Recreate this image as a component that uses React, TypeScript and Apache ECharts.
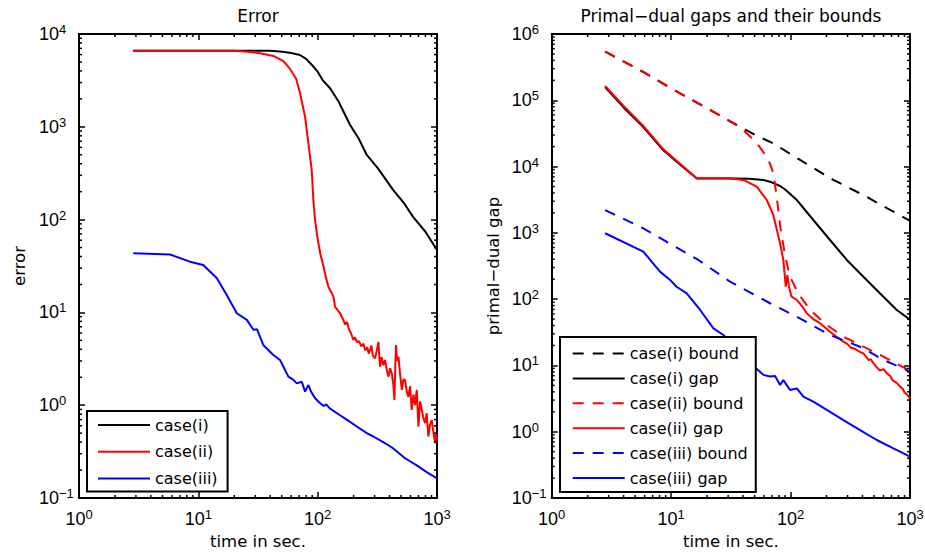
import React, { useEffect, useRef } from 'react';
import * as echarts from 'echarts';

// ---------- Left panel: Error ----------
const errCase1T = [2.85, 10, 20, 30, 40, 51, 60, 71, 80, 89.5, 100, 110, 127, 150, 187, 220, 258, 320, 430, 530, 630, 800, 1000];
const errCase1V = [6600, 6600, 6600, 6600, 6580, 6450, 6250, 5940, 5400, 4640, 3930, 3190, 2600, 1860, 1045, 752, 497, 357, 208, 150, 107, 74, 47];

const errCase2T = [2.85, 10, 19.6, 26, 32.9, 42.5, 51.6, 58.7, 66, 71.2, 78.4, 83.6, 89.2, 92, 95.1, 100, 105, 112, 118, 123, 130, 135.5, 140, 147, 154, 162, 170, 176, 183, 190, 199, 205, 214, 222, 232, 242, 250, 260, 268, 275, 282, 290, 303, 313, 323, 333, 343, 355, 367, 380, 392, 405, 418, 430, 440, 447, 454, 462, 475, 490, 507, 523, 540, 558, 576, 595, 614, 635, 655, 677, 699, 722, 746, 770, 795, 820, 847, 875, 904, 935, 964, 985, 1000];
const errCase2V = [6600, 6600, 6600, 6450, 6200, 5800, 5110, 4200, 3300, 2300, 1285, 664, 342, 163, 99, 62, 43.4, 31.1, 23, 18.9, 16.5, 14.8, 11.5, 10.6, 9.8, 8.6, 7.4, 7.9, 6.6, 6.0, 5.05, 5.4, 4.8, 4.9, 4.3, 4.6, 3.9, 4.2, 3.6, 3.94, 4.4, 3.4, 3.2, 3.9, 4.8, 2.6, 3.3, 2.7, 3.07, 2.4, 2.03, 2.5, 2.2, 1.7, 1.14, 2.6, 4.46, 3.0, 3.34, 2.2, 1.46, 1.9, 1.87, 1.4, 1.23, 1.6, 0.89, 1.3, 1.0, 1.46, 0.587, 1.1, 0.89, 0.72, 0.64, 0.82, 0.46, 0.62, 0.69, 0.5, 0.39, 0.5, 0.42];

const errCase3T = [2.85, 5.8, 8.5, 11, 14.3, 17.3, 21, 25.5, 28.9, 31, 35, 42.5, 48.4, 56.8, 62, 66.8, 73.6, 78.4, 83.6, 88, 95.1, 105, 112, 118, 127, 154, 175, 213, 258, 293, 354, 420, 540, 676, 820, 1000];
const errCase3V = [43.3, 42, 35.2, 32.4, 23.3, 15.4, 9.8, 8.3, 6.5, 6.6, 4.46, 3.47, 3.07, 2.03, 1.9, 1.72, 1.79, 1.4, 1.65, 1.4, 1.19, 1.05, 0.98, 1.02, 0.92, 0.78, 0.7, 0.59, 0.5, 0.46, 0.4, 0.35, 0.268, 0.225, 0.19, 0.163];

// ---------- Right panel: primal-dual gaps and bounds ----------
const bndCase1T = [2.8, 5.8, 10, 16.9, 30, 50, 71.8, 120, 228, 400, 640, 1000];
const bndCase1V = [541000, 270000, 151000, 90000, 50400, 30200, 22400, 12600, 6300, 3780, 2360, 1520];

const gapCase1T = [2.8, 4, 5.85, 8.6, 12, 16.4, 25, 35, 45, 59.2, 67.3, 81.7, 90, 113, 155, 214, 296, 407, 562, 775, 1000];
const gapCase1V = [158000, 78000, 39500, 17600, 10600, 6600, 6620, 6620, 6550, 6280, 5920, 5100, 4500, 3130, 1563, 780, 390, 218, 122, 68.6, 49];

const bndCase2T = [2.8, 5.8, 10, 16.9, 25, 33.2, 40, 45.8, 52, 57.4, 61.2, 67.3, 71.8, 76.6, 81.7, 90, 99, 116, 146, 201, 277, 407, 599, 1000];
const bndCase2V = [545000, 268000, 152000, 89000, 60500, 45000, 36000, 28500, 22500, 17800, 15000, 11000, 7900, 3500, 1300, 450, 218, 122, 68.6, 40.7, 27.2, 19.2, 13.6, 8.3];

const gapCase2T = [2.8, 4, 5.85, 8.6, 12, 16.4, 25, 31.1, 40.3, 52.1, 63.2, 71.8, 81.7, 87, 91.2, 94, 97, 102, 113, 125, 137, 155, 177, 214, 250, 277, 300, 320, 345, 360, 385, 407, 430, 450, 470, 494, 520, 560, 600, 640, 680, 720, 770, 826, 870, 900, 950, 1000];
const gapCase2V = [165000, 82000, 41000, 18200, 10800, 6650, 6650, 6650, 6280, 4980, 3130, 1850, 697, 390, 154, 231, 154, 109, 97, 78, 61, 50, 43, 32.3, 26, 22.8, 21, 18.5, 17.8, 17, 15.8, 15.2, 13.5, 12, 12.4, 10.8, 9.6, 8.4, 8.8, 7.6, 7.0, 5.9, 5.5, 4.8, 4.4, 3.9, 3.6, 3.2];

const bndCase3T = [2.8, 5.85, 10, 16.9, 31.1, 67.3, 113, 214, 400, 600, 1000];
const bndCase3V = [2210, 1170, 672, 390, 184, 86.7, 54, 28.8, 18.5, 12.1, 8.05];

const gapCase3T = [2.8, 5.85, 8.07, 9.8, 11.1, 13.5, 17.5, 22.6, 27.4, 40, 50, 59.2, 67.3, 74.2, 81.7, 87, 99, 113, 128, 155, 201, 277, 382, 527, 726, 1000];
const gapCase3V = [986, 520, 260, 195, 154, 122, 68.6, 36.3, 28.8, 13, 9.5, 7.2, 6.8, 6.9, 5.07, 6.0, 4.26, 4.5, 3.38, 2.84, 2.13, 1.5, 1.06, 0.75, 0.56, 0.42];

// ---------- Tick positions ----------
const xMinorTicks = [2, 3, 4, 5, 6, 7, 8, 9, 20, 30, 40, 50, 60, 70, 80, 90, 200, 300, 400, 500, 600, 700, 800, 900];
const yMinorTicksLeft = [0.2, 0.3, 0.4, 0.5, 0.6, 0.7, 0.8, 0.9, 2, 3, 4, 5, 6, 7, 8, 9, 20, 30, 40, 50, 60, 70, 80, 90, 200, 300, 400, 500, 600, 700, 800, 900, 2000, 3000, 4000, 5000, 6000, 7000, 8000, 9000];
const yMinorTicksRight = [...yMinorTicksLeft, 20000, 30000, 40000, 50000, 60000, 70000, 80000, 90000, 200000, 300000, 400000, 500000, 600000, 700000, 800000, 900000];

const leftLegend = ['case(i)', 'case(ii)', 'case(iii)'];
const rightLegend = ['case(i) bound', 'case(i) gap', 'case(ii) bound', 'case(ii) gap', 'case(iii) bound', 'case(iii) gap'];

const zip = (t: number[], v: number[]) => t.map((x, i) => [x, v[i]]);

const TXT = 'DejaVu Sans';
const NUM = 'Liberation Sans';

function supLabel(value: number) {
  const e = Math.round(Math.log10(value));
  const s = e < 0 ? '\u2212' + Math.abs(e) : String(e);
  return `{b|10}{s|${s}}`;
}

const rich = {
  b: { fontFamily: NUM, fontSize: 18, lineHeight: 22, color: '#000' },
  s: { fontFamily: NUM, fontSize: 13, lineHeight: 12, verticalAlign: 'top', color: '#000' },
};

const axisLineStyle = { show: true, onZero: false, lineStyle: { color: '#000', width: 2 } };
const majorTick = { show: true, inside: true, length: 6, lineStyle: { color: '#000', width: 1.5 } };
const nameStyle = { fontFamily: TXT, fontSize: 16.5, color: '#000' };

function xAxes(g: number) {
  const base = { gridIndex: g, type: 'log', logBase: 10, min: 1, max: 1000, splitLine: { show: false }, minorTick: { show: false } };
  return [
    {
      ...base, position: 'bottom', axisLine: axisLineStyle, axisTick: majorTick,
      axisLabel: { show: true, margin: 10, formatter: supLabel, rich, showMinLabel: true, showMaxLabel: true },
      name: 'time in sec.', nameLocation: 'middle', nameGap: 33, nameTextStyle: nameStyle,
    },
    { ...base, position: 'top', axisLine: axisLineStyle, axisTick: majorTick, axisLabel: { show: false } },
  ];
}

function yAxes(g: number, min: number, max: number, name: string, gap: number) {
  const base = { gridIndex: g, type: 'log', logBase: 10, min, max, splitLine: { show: false }, minorTick: { show: false } };
  return [
    {
      ...base, position: 'left', axisLine: axisLineStyle, axisTick: majorTick,
      axisLabel: { show: true, margin: 40, align: 'left', formatter: supLabel, rich, showMinLabel: true, showMaxLabel: true },
      name, nameLocation: 'middle', nameGap: gap, nameTextStyle: nameStyle,
    },
    { ...base, position: 'right', axisLine: axisLineStyle, axisTick: majorTick, axisLabel: { show: false } },
  ];
}

function minorX(xi: number, yi: number, yRef: number) {
  return {
    type: 'custom', xAxisIndex: xi, yAxisIndex: yi, silent: true, clip: false, z: 5,
    data: xMinorTicks.map((v) => [v, yRef]),
    renderItem: (params: any, api: any) => {
      const cs = params.coordSys;
      const x = api.coord([api.value(0), api.value(1)])[0];
      const st = { stroke: '#000', lineWidth: 1.5 };
      return {
        type: 'group', children: [
          { type: 'line', shape: { x1: x, y1: cs.y + cs.height, x2: x, y2: cs.y + cs.height - 3 }, style: st },
          { type: 'line', shape: { x1: x, y1: cs.y, x2: x, y2: cs.y + 3 }, style: st },
        ],
      };
    },
  };
}

function minorY(xi: number, yi: number, ticks: number[]) {
  return {
    type: 'custom', xAxisIndex: xi, yAxisIndex: yi, silent: true, clip: false, z: 5,
    data: ticks.map((v) => [1, v]),
    renderItem: (params: any, api: any) => {
      const cs = params.coordSys;
      const y = api.coord([api.value(0), api.value(1)])[1];
      const st = { stroke: '#000', lineWidth: 1.5 };
      return {
        type: 'group', children: [
          { type: 'line', shape: { x1: cs.x, y1: y, x2: cs.x + 3, y2: y }, style: st },
          { type: 'line', shape: { x1: cs.x + cs.width, y1: y, x2: cs.x + cs.width - 3, y2: y }, style: st },
        ],
      };
    },
  };
}

function line(name: string, xi: number, yi: number, t: number[], v: number[], color: string, dashed: boolean) {
  return {
    type: 'line', name, xAxisIndex: xi, yAxisIndex: yi, data: zip(t, v),
    showSymbol: false, symbol: 'none', z: 3,
    lineStyle: { color, width: 2, type: dashed ? [11, 9] : 'solid' },
    itemStyle: { color },
  };
}

export default function App() {
  const ref = useRef<HTMLDivElement>(null);
  useEffect(() => {
    if (!ref.current) return;
    const chart = echarts.init(ref.current, null, { renderer: 'svg' });
    const legendText = { fontFamily: TXT, fontSize: 16, color: '#000', lineHeight: 18 };
    const legendCommon = {
      orient: 'vertical', itemWidth: 52, itemHeight: 14, backgroundColor: '#fff', borderColor: '#000',
      borderWidth: 2, borderRadius: 0, textStyle: legendText, selectedMode: false,
      itemStyle: { opacity: 0, color: 'rgba(0,0,0,0)', borderWidth: 0 },
    };
    const option: any = {
      animation: false,
      backgroundColor: '#fff',
      title: [
        { text: 'Error', left: 258, top: 7, padding: 0, textAlign: 'center', textStyle: { fontFamily: TXT, fontSize: 17, fontWeight: 'normal', color: '#000' } },
        { text: 'Primal\u2212dual gaps and their bounds', left: 731, top: 7, padding: 0, textAlign: 'center', textStyle: { fontFamily: TXT, fontSize: 17, fontWeight: 'normal', color: '#000' } },
      ],
      grid: [
        { left: 79, top: 34, width: 358, height: 464, outerBoundsMode: 'none', containLabel: false },
        { left: 551.7, top: 34, width: 358.3, height: 464, outerBoundsMode: 'none', containLabel: false },
      ],
      xAxis: [...xAxes(0), ...xAxes(1)],
      yAxis: [...yAxes(0, 0.1, 10000, 'error', 51.5), ...yAxes(1, 0.1, 1000000, 'primal\u2212dual gap', 50)],
      legend: [
        { ...legendCommon, data: leftLegend, left: 87, top: 411, itemGap: 8.7, padding: [5, 10, 4, 10] },
        { ...legendCommon, data: rightLegend, left: 560, top: 337, itemGap: 6.9, padding: [7.5, 8, 5, 11.7] },
      ],
      series: [
        line('case(i)', 0, 0, errCase1T, errCase1V, '#000000', false),
        line('case(ii)', 0, 0, errCase2T, errCase2V, '#ff0000', false),
        line('case(iii)', 0, 0, errCase3T, errCase3V, '#0000ff', false),
        line('case(i) bound', 2, 2, bndCase1T, bndCase1V, '#000000', true),
        line('case(i) gap', 2, 2, gapCase1T, gapCase1V, '#000000', false),
        line('case(ii) bound', 2, 2, bndCase2T, bndCase2V, '#ff0000', true),
        line('case(ii) gap', 2, 2, gapCase2T, gapCase2V, '#ff0000', false),
        line('case(iii) bound', 2, 2, bndCase3T, bndCase3V, '#0000ff', true),
        line('case(iii) gap', 2, 2, gapCase3T, gapCase3V, '#0000ff', false),
        minorX(0, 0, 1),
        minorY(0, 0, yMinorTicksLeft),
        minorX(2, 2, 1),
        minorY(2, 2, yMinorTicksRight),
      ],
    };
    chart.setOption(option);
    return () => chart.dispose();
  }, []);
  return (
    <div
      ref={ref}
      style={{ position: 'fixed', left: 0, top: 0, width: 925, height: 552, background: '#fff' }}
    />
  );
}
